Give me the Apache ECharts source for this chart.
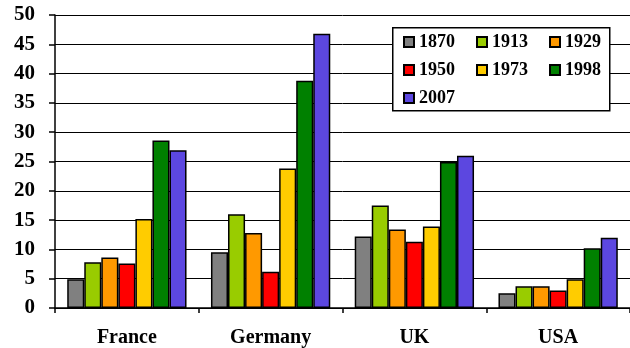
<!DOCTYPE html>
<html>
<head>
<meta charset="utf-8">
<script src="https://cdn.jsdelivr.net/npm/echarts@6/dist/echarts.min.js"></script>
<style>html,body{margin:0;padding:0;background:#fff}#c{width:630px;height:348px}</style>
</head>
<body>
<div id="c"></div>
<script>
const categories = ['France', 'Germany', 'UK', 'USA'];
const years = ['1870', '1913', '1929', '1950', '1973', '1998', '2007'];
const v1870 = [4.9, 9.5, 12.2, 2.5];
const v1913 = [7.8, 16.0, 17.5, 3.7];
const v1929 = [8.6, 12.8, 13.4, 3.7];
const v1950 = [7.6, 6.2, 11.3, 3.0];
const v1973 = [15.2, 23.8, 13.9, 4.9];
const v1998 = [28.6, 38.8, 24.9, 10.2];
const v2007 = [26.9, 46.8, 26.0, 12.0];
const colors = ['#808080', '#99CC00', '#FF9900', '#FF0000', '#FFCC00', '#008000', '#5C47E0'];
const seriesValues = [v1870, v1913, v1929, v1950, v1973, v1998, v2007];
// legend columns (3 per row in the box)
const legendCols = [
  [years[0], years[3], years[6]],
  [years[1], years[4]],
  [years[2], years[5]]
];

const font = "'Liberation Serif', 'Times New Roman', serif";
const chart = echarts.init(document.getElementById('c'), null, {renderer: 'canvas'});
chart.setOption({
  animation: false,
  grid: {left: 55, top: 15, right: -5, bottom: 38, containLabel: false},
  graphic: [{
    type: 'rect', z: 3, left: 392, top: 27,
    shape: {width: 217, height: 83},
    style: {fill: '#fff', stroke: '#000', lineWidth: 1.5}
  }],
  legend: legendCols.map((col, c) => ({
    left: 403 + c * 73, top: 33,
    orient: 'vertical', z: 5,
    padding: 0,
    itemGap: 10, itemWidth: 10, itemHeight: 10,
    icon: 'rect',
    textStyle: {fontFamily: font, fontWeight: 'bold', fontSize: 18, color: '#000'},
    data: col
  })),
  xAxis: {
    type: 'category', data: categories,
    axisLine: {lineStyle: {color: '#000', width: 1.5}},
    axisTick: {show: true, length: 5, lineStyle: {color: '#000', width: 1.5}},
    axisLabel: {fontFamily: font, fontWeight: 'bold', fontSize: 20, color: '#000', margin: 20}
  },
  yAxis: {
    type: 'value', min: 0, max: 50, interval: 5,
    axisLine: {show: true, lineStyle: {color: '#000', width: 1.5}},
    axisTick: {show: true, length: 6, lineStyle: {color: '#000', width: 1.5}},
    splitLine: {show: true, lineStyle: {color: '#000', width: 1}},
    axisLabel: {fontFamily: font, fontWeight: 'bold', fontSize: 21, color: '#000', margin: 20}
  },
  series: years.map((y, i) => ({
    name: y, type: 'bar', data: seriesValues[i],
    barGap: 0, barCategoryGap: '17%',
    itemStyle: {color: colors[i], borderColor: '#000', borderWidth: 1.5}
  }))
});
</script>
</body>
</html>
